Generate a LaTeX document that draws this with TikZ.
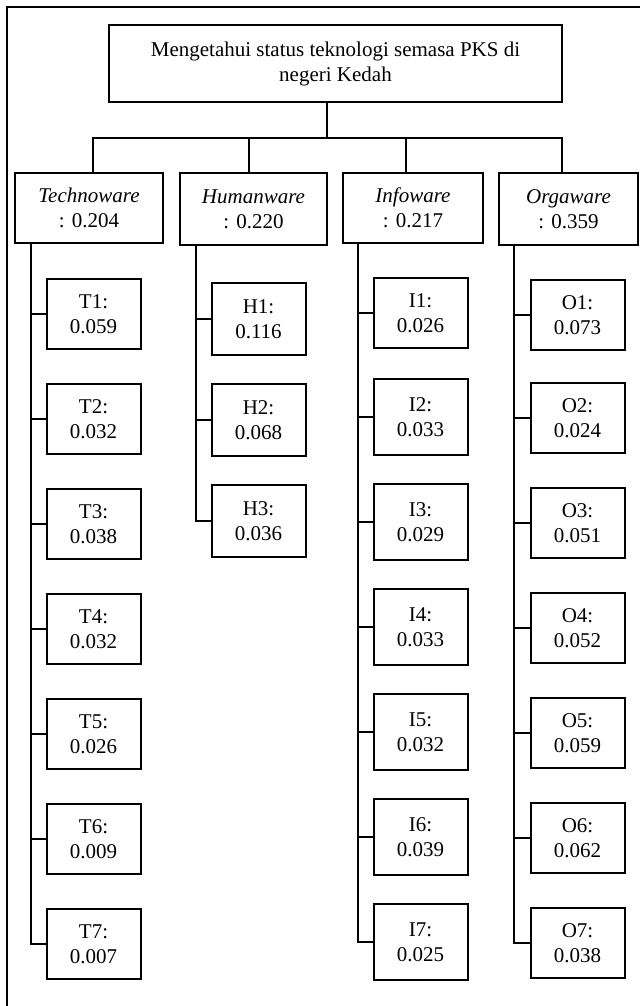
\documentclass[tikz,border=0pt]{standalone}
\usepackage{fontspec}
\setmainfont{Liberation Serif}
\usetikzlibrary{positioning}

\begin{document}
\begin{tikzpicture}[x=0.5pt, y=-0.5pt, line width=1pt,
  font=\fontsize{10.5}{12.5}\selectfont,
  box/.style={draw, align=center, inner sep=0pt},
  catbox/.style={box, minimum height=35pt},
  leaf/.style={box, minimum width=47pt, minimum height=35pt}]
  \useasboundingbox (0,0) rectangle (640,1006);

  % Frame
  \draw (7,1006) -- (7,7) -- (640,7);

  % Goal
  \node[box, minimum width=226.5pt, minimum height=38.5pt] (goal) at (335.5,63.5) {Mengetahui status teknologi semasa PKS di\\negeri Kedah};

  % Components
  \node[catbox, minimum width=74pt] (tw) at (89,208) {\textit{Technoware}\\: 0.204};
  \node[catbox, minimum width=73.5pt, minimum height=36pt] (hw) at (253.5,209) {\textit{Humanware}\\: 0.220};
  \node[catbox, minimum width=70pt] (iw) at (413,208) {\textit{Infoware}\\: 0.217};
  \node[catbox, minimum width=69.5pt, minimum height=36pt] (ow) at (568.5,209) {\textit{Orgaware}\\: 0.359};

  % Technoware items
  \node[leaf] (t1) at (93.5,314) {T1:\\0.059};
  \node[leaf] (t2) at (93.5,419) {T2:\\0.032};
  \node[leaf] (t3) at (93.5,524) {T3:\\0.038};
  \node[leaf] (t4) at (93.5,629) {T4:\\0.032};
  \node[leaf] (t5) at (93.5,734) {T5:\\0.026};
  \node[leaf] (t6) at (93.5,839) {T6:\\0.009};
  \node[leaf] (t7) at (93.5,944) {T7:\\0.007};

  % Humanware items
  \node[leaf, minimum height=36pt] (h1) at (258.5,319) {H1:\\0.116};
  \node[leaf, minimum height=36pt] (h2) at (258.5,420) {H2:\\0.068};
  \node[leaf, minimum height=36pt] (h3) at (258.5,521) {H3:\\0.036};

  % Infoware items
  \node[leaf] (i1) at (420.5,313) {I1:\\0.026};
  \node[leaf, minimum height=38pt] (i2) at (420.5,417) {I2:\\0.033};
  \node[leaf, minimum height=38pt] (i3) at (420.5,522) {I3:\\0.029};
  \node[leaf, minimum height=38pt] (i4) at (420.5,627) {I4:\\0.033};
  \node[leaf, minimum height=38pt] (i5) at (420.5,732) {I5:\\0.032};
  \node[leaf, minimum height=38pt] (i6) at (420.5,837) {I6:\\0.039};
  \node[leaf, minimum height=38pt] (i7) at (420.5,942) {I7:\\0.025};

  % Orgaware items
  \node[leaf] (o1) at (577.5,315) {O1:\\0.073};
  \node[leaf] (o2) at (577.5,418) {O2:\\0.024};
  \node[leaf] (o3) at (577.5,523) {O3:\\0.051};
  \node[leaf] (o4) at (577.5,628) {O4:\\0.052};
  \node[leaf] (o5) at (577.5,733) {O5:\\0.059};
  \node[leaf] (o6) at (577.5,838) {O6:\\0.062};
  \node[leaf] (o7) at (577.5,943) {O7:\\0.038};

  % Goal to components
  \coordinate (hub) at (327,138);
  \coordinate (d1) at (93,138);
  \coordinate (d2) at (249,138);
  \coordinate (d3) at (406,138);
  \coordinate (d4) at (562,138);
  \draw (goal.south -| hub) -- (hub);
  \draw (d1 |- tw.north) -- (d1) -- (d4) -- (d4 |- ow.north);
  \draw (d2) -- (d2 |- hw.north);
  \draw (d3) -- (d3 |- iw.north);

  % Components to items
  \coordinate (tx) at (31,0);
  \coordinate (hx) at (196,0);
  \coordinate (ix) at (358,0);
  \coordinate (ox) at (514,0);
  \draw (tx |- tw.south) |- (t7.west);
  \draw (t1.west) -- (t1.west -| tx) (t2.west) -- (t2.west -| tx) (t3.west) -- (t3.west -| tx)
        (t4.west) -- (t4.west -| tx) (t5.west) -- (t5.west -| tx) (t6.west) -- (t6.west -| tx);
  \draw (hx |- hw.south) |- (h3.west);
  \draw (h1.west) -- (h1.west -| hx) (h2.west) -- (h2.west -| hx);
  \draw (ix |- iw.south) |- (i7.west);
  \draw (i1.west) -- (i1.west -| ix) (i2.west) -- (i2.west -| ix) (i3.west) -- (i3.west -| ix)
        (i4.west) -- (i4.west -| ix) (i5.west) -- (i5.west -| ix) (i6.west) -- (i6.west -| ix);
  \draw (ox |- ow.south) |- (o7.west);
  \draw (o1.west) -- (o1.west -| ox) (o2.west) -- (o2.west -| ox) (o3.west) -- (o3.west -| ox)
        (o4.west) -- (o4.west -| ox) (o5.west) -- (o5.west -| ox) (o6.west) -- (o6.west -| ox);
\end{tikzpicture}
\end{document}
